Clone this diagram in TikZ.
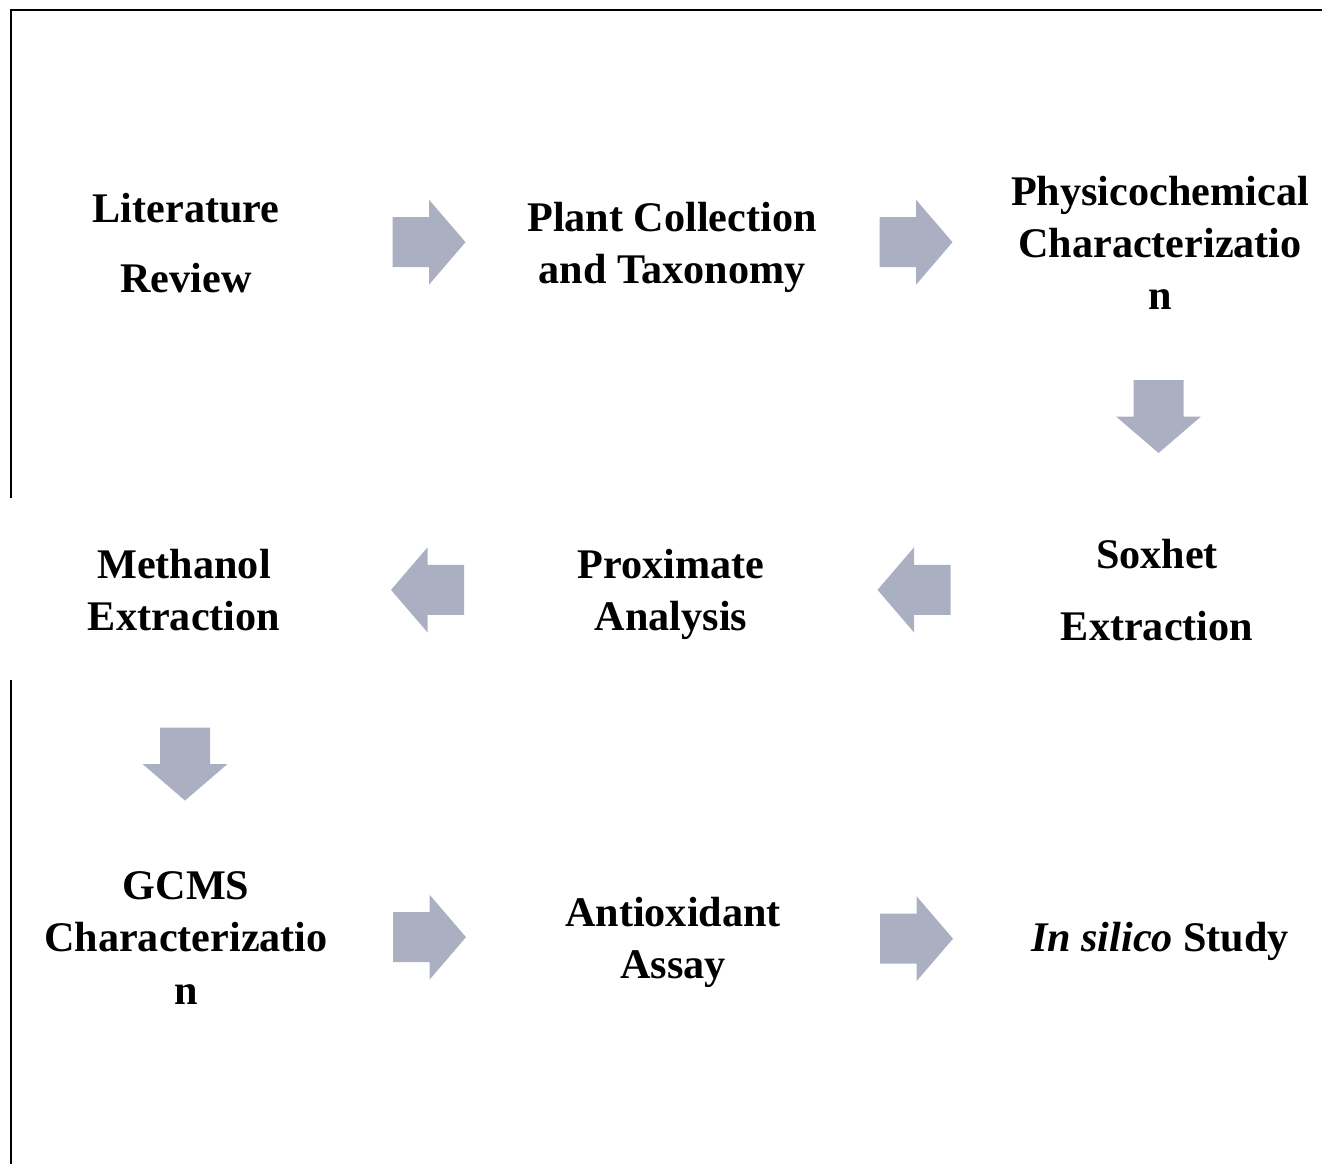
\documentclass[tikz,border=0pt]{standalone}
\usepackage{fontspec}
\setmainfont{Liberation Serif}
\usetikzlibrary{calc}
\definecolor{arrowgray}{RGB}{170,176,193}
\tikzset{
  stage/.style={font=\bfseries\fontsize{12}{14.8}\selectfont, align=center, inner sep=0pt},
  blockarrow/.pic={\fill[arrowgray] (-36.5,-25) -- (0,-25) -- (0,-42.5) -- (36.5,0) -- (0,42.5) -- (0,25) -- (-36.5,25) -- cycle;}
}
\begin{document}
\begin{tikzpicture}[x=0.01cm, y=-0.01cm]
    \useasboundingbox (0,0) rectangle (1322,1164);
    % Frame (left side broken at the middle row)
    \draw[line width=0.6pt] (11,498) -- (11,10) -- (1322,10);
    \draw[line width=0.6pt] (11,680) -- (11,1164);

    % First row
    \node[stage] (lit) at (186,243) {Literature\\[5pt]Review};
    \node[stage] (plant) at (672,247) {Plant Collection\\and Taxonomy};
    \node[stage] (phys) at (1160,243) {Physicochemical\\Characterizatio\\n};

    % Second row
    \node[stage] (sox) at (1157,590) {Soxhet\\[5.5pt]Extraction};
    \node[stage] (prox) at (671,594) {Proximate\\Analysis};
    \node[stage] (meth) at (184,590) {Methanol\\Extraction};

    % Third row
    \node[stage] (gcms) at (186,938) {GCMS\\Characterizatio\\n};
    \node[stage] (anti) at (673,942) {Antioxidant\\Assay};
    \node[stage] (silico) at (1160,941) {\textit{In silico} Study};

    % Block arrows between the stages
    \pic[yshift=0.8pt] at ($(lit)!0.5!(plant)$) {blockarrow};
    \pic[yshift=0.8pt] at ($(plant)!0.5!(phys)$) {blockarrow};
    \pic[rotate=-90] at ($(phys)!0.5!(sox)$) {blockarrow};
    \pic[rotate=180, yshift=-0.6pt] at ($(sox)!0.5!(prox)$) {blockarrow};
    \pic[rotate=180, yshift=-0.6pt] at ($(prox)!0.5!(meth)$) {blockarrow};
    \pic[rotate=-90] at ($(meth)!0.5!(gcms)$) {blockarrow};
    \pic[yshift=0.8pt] at ($(gcms)!0.5!(anti)$) {blockarrow};
    \pic[yshift=0.8pt] at ($(anti)!0.5!(silico)$) {blockarrow};
\end{tikzpicture}
\end{document}
